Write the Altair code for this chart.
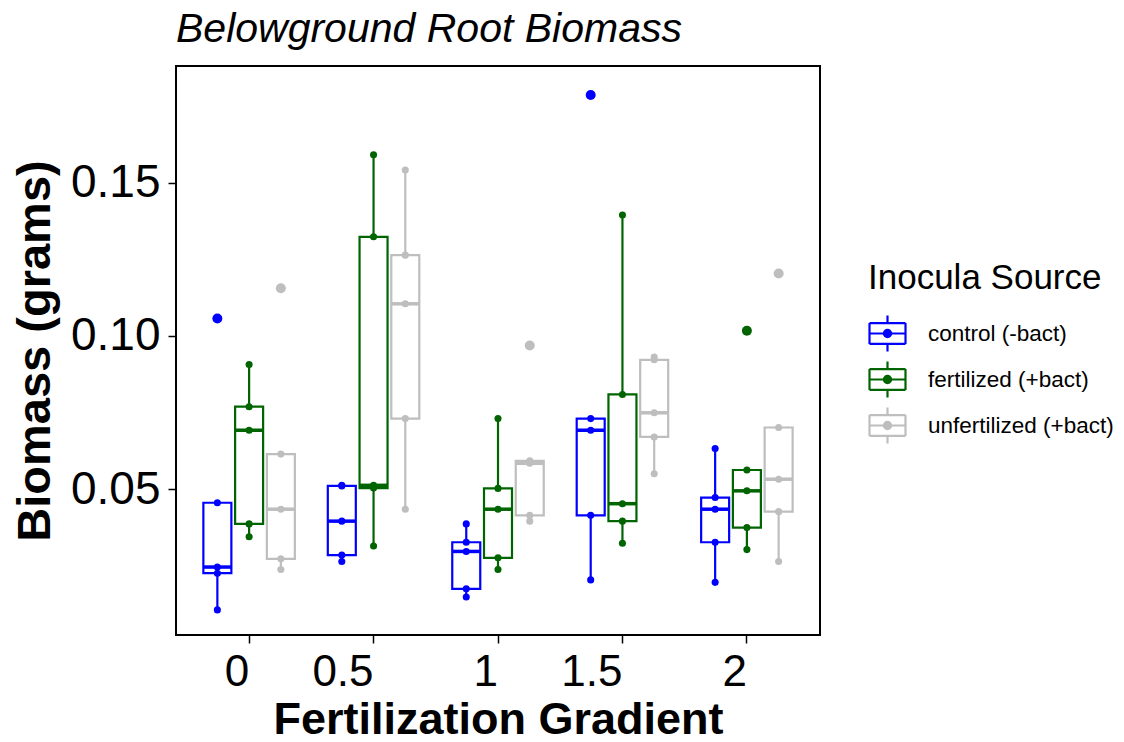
import altair as alt
import pandas as pd

# ---- data ----
grads = ["0", "0.5", "1", "1.5", "2"]
sources = ["control (-bact)", "fertilized (+bact)", "unfertilized (+bact)"]
colors = ["#0000FF", "#006400", "#BEBEBE"]

control_vals = [
    [0.0105, 0.0225, 0.0245, 0.0455, 0.1057],
    [0.0263, 0.0284, 0.0395, 0.0510, 0.0512],
    [0.0147, 0.0174, 0.0296, 0.0326, 0.0386],
    [0.0203, 0.0414, 0.0692, 0.0730, 0.1787],
    [0.0195, 0.0326, 0.0434, 0.0472, 0.0632],
]
fertilized_vals = [
    [0.0344, 0.0386, 0.0692, 0.0769, 0.0907],
    [0.0314, 0.0503, 0.0512, 0.1324, 0.1592],
    [0.0237, 0.0275, 0.0434, 0.0502, 0.0730],
    [0.0323, 0.0395, 0.0452, 0.0809, 0.1395],
    [0.0302, 0.0374, 0.0494, 0.0562, 0.1017],
]
unfertilized_vals = [
    [0.0237, 0.0272, 0.0434, 0.0614, 0.1156],
    [0.0434, 0.0730, 0.1105, 0.1264, 0.1542],
    [0.0395, 0.0414, 0.0584, 0.0592, 0.0969],
    [0.0550, 0.0670, 0.0749, 0.0922, 0.0931],
    [0.0263, 0.0426, 0.0532, 0.0701, 0.1204],
]
y_ticks = [0.05, 0.10, 0.15]

rows = []
for src, vals in zip(sources, [control_vals, fertilized_vals, unfertilized_vals]):
    for g, vs in zip(grads, vals):
        for v in vs:
            rows.append({"grad": g, "source": src, "value": v})
df = pd.DataFrame(rows)

FONT = "Liberation Sans"

x_scale = alt.Scale(domain=grads, paddingInner=0.25, paddingOuter=0.2125)
xo_scale = alt.Scale(domain=sources, paddingInner=0.06, paddingOuter=0)
y_scale = alt.Scale(domain=[0.0023, 0.1882], nice=False, zero=False)
c_scale = alt.Scale(domain=sources, range=colors)

x_axis = alt.Axis(
    title="Fertilization Gradient", labelAngle=0, labelAlign="right",
    labelFontSize=44, labelFont=FONT, labelColor="black",
    titleFontSize=45, titleFont=FONT, titleFontWeight="bold", titleColor="black",
    tickSize=8, tickWidth=1.5, tickColor="black", labelPadding=7, titlePadding=3,
    domain=False, grid=False,
)
y_axis = alt.Axis(
    title="Biomass (grams)", values=y_ticks, format=".2f",
    labelFontSize=46, labelFont=FONT, labelColor="black",
    titleFontSize=47, titleFont=FONT, titleFontWeight="bold", titleColor="black",
    tickSize=8, tickWidth=1.5, tickColor="black", labelPadding=8, titlePadding=11,
    domain=False, grid=False,
)

sym_path = (
    "M-1,-0.58L1,-0.58M1,-0.58L1,0.58M1,0.58L-1,0.58M-1,0.58L-1,-0.58"
    "M-1,0L1,0M0,-1L0,-0.58M0,0.58L0,1"
    "M-0.2,0A0.2,0.2,0,1,0,0.2,0A0.2,0.2,0,1,0,-0.2,0Z"
)
legend = alt.Legend(
    title="Inocula Source", titleFontSize=35, titleFont=FONT, titleFontWeight="normal",
    titleColor="black", labelFontSize=22.5, labelFont=FONT, labelColor="black",
    titleLimit=500, labelLimit=500,
    symbolType=sym_path, symbolSize=1296, symbolStrokeWidth=2.2,
    orient="none", legendX=692, legendY=195, titlePadding=18, rowPadding=1,
    labelOffset=21, padding=0,
)


def X():
    return alt.X("grad:N", sort=grads, scale=x_scale, axis=x_axis)


def XO():
    return alt.XOffset("source:N", sort=sources, scale=xo_scale)


def Y(field):
    return alt.Y(field, scale=y_scale, axis=y_axis, title="Biomass (grams)")


def C():
    return alt.Color("source:N", sort=sources, scale=c_scale, legend=legend)


def S():
    return alt.Stroke("source:N", sort=sources, scale=c_scale, legend=legend)


base = (
    alt.Chart(df)
    .transform_joinaggregate(q1="q1(value)", q3="q3(value)", med="median(value)",
                             groupby=["grad", "source"])
    .transform_calculate(lo="datum.q1 - 1.5 * (datum.q3 - datum.q1)")
    .transform_calculate(hi="datum.q3 + 1.5 * (datum.q3 - datum.q1)")
    .transform_calculate(outlier="datum.value < datum.lo || datum.value > datum.hi")
)
stats = base.transform_filter("!datum.outlier").transform_aggregate(
    lower="min(value)", upper="max(value)", bq1="min(q1)", bq3="min(q3)", bmed="min(med)",
    groupby=["grad", "source"],
)

whiskers = stats.mark_rule(strokeWidth=2.2).encode(
    x=X(), xOffset=XO(), y=Y("lower:Q"), y2="upper:Q", stroke=S()
)
boxes = stats.mark_bar(fill="white", strokeWidth=2.2, size=28).encode(
    x=X(), xOffset=XO(), y=Y("bq1:Q"), y2="bq3:Q", stroke=S()
)
medians = stats.mark_tick(thickness=3.5, size=28, opacity=1, orient="horizontal").encode(
    x=X(), xOffset=XO(), y=Y("bmed:Q"), color=C()
)
outliers = base.transform_filter("datum.outlier").mark_circle(size=100, opacity=1).encode(
    x=X(), xOffset=XO(), y=Y("value:Q"), color=C()
)
points = base.mark_circle(size=50, opacity=1).encode(
    x=X(), xOffset=XO(), y=Y("value:Q"), color=C()
)

chart = (
    alt.layer(whiskers, boxes, medians, outliers, points)
    .properties(
        width=644, height=569,
        title=alt.TitleParams("Belowground Root Biomass", fontStyle="italic", fontSize=41,
                              fontWeight="normal", font=FONT, color="black", anchor="start",
                              frame="group", baseline="alphabetic", offset=-17),
        autosize=alt.AutoSizeParams(type="none"),
        padding={"left": 168, "top": 58, "right": 296, "bottom": 99},
        background="white",
    )
    .configure_view(stroke="black", strokeWidth=2)
)

chart.save("out.html", embed_options={"renderer": "svg", "actions": False})
